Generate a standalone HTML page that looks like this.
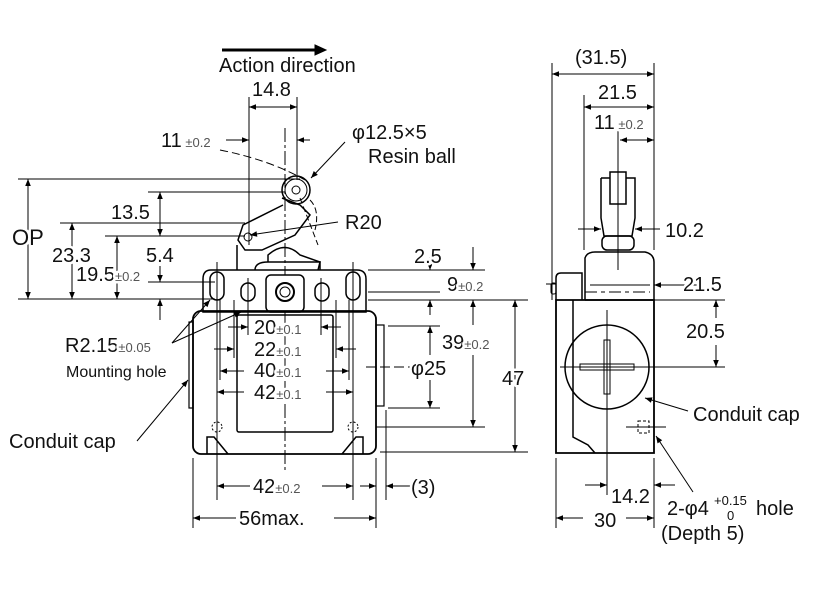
<!DOCTYPE html>
<html><head><meta charset="utf-8"><style>
html,body{margin:0;padding:0;background:#fff;width:821px;height:591px;overflow:hidden}
svg{display:block}
text{font-family:"Liberation Sans",sans-serif;fill:#111;stroke:#fff;stroke-width:5px;paint-order:stroke;stroke-linejoin:round}
</style></head><body>
<svg width="821" height="591" viewBox="0 0 821 591" xmlns="http://www.w3.org/2000/svg">
<defs>
<marker id="a" viewBox="0 0 10 10" refX="10" refY="5" markerWidth="9" markerHeight="7" orient="auto-start-reverse" markerUnits="userSpaceOnUse"><path d="M0,1 L10,5 L0,9 z" fill="#000"/></marker>
</defs>
<g stroke="#000" stroke-width="1" fill="none">
<line x1="222" y1="50" x2="318" y2="50" stroke-width="3"/>
<path d="M315,45 L326,50 L315,55 z" fill="#000"/>
<line x1="249" y1="97" x2="249" y2="245"/>
<line x1="297" y1="97" x2="297" y2="180"/>
<line x1="249" y1="107" x2="297" y2="107" marker-start="url(#a)" marker-end="url(#a)"/>
<line x1="285" y1="128" x2="285" y2="470" stroke-dasharray="14,3,3,3"/>
<line x1="226" y1="140" x2="249" y2="140" marker-end="url(#a)"/>
<line x1="310" y1="140" x2="297" y2="140" marker-end="url(#a)"/>
<line x1="18" y1="179" x2="300" y2="179"/>
<line x1="148" y1="192" x2="285" y2="192"/>
<line x1="60" y1="223" x2="245" y2="223"/>
<line x1="105" y1="236" x2="245" y2="236"/>
<line x1="148" y1="282" x2="215" y2="282"/>
<line x1="18" y1="299" x2="215" y2="299"/>
<line x1="28" y1="179" x2="28" y2="299" marker-start="url(#a)" marker-end="url(#a)"/>
<line x1="160" y1="192" x2="160" y2="236" marker-start="url(#a)" marker-end="url(#a)"/>
<line x1="72" y1="223" x2="72" y2="299" marker-start="url(#a)" marker-end="url(#a)"/>
<line x1="117" y1="236" x2="117" y2="299" marker-start="url(#a)" marker-end="url(#a)"/>
<line x1="160" y1="266" x2="160" y2="282" marker-end="url(#a)"/>
<line x1="160" y1="320" x2="160" y2="299" marker-end="url(#a)"/>
<path d="M220,150 Q270,160 305,180" stroke-dasharray="8,4"/>
<circle cx="296" cy="190" r="14" stroke-width="1.5"/>
<circle cx="296" cy="190" r="11"/>
<circle cx="296" cy="190" r="4"/>
<path d="M282,198 L300,205 L310,215 L295,235 L262,250 L245,250 L238,240 L243,225 L283,205" stroke-width="1.5"/>
<circle cx="248" cy="237" r="4"/>
<path d="M310,200 Q320,210 315,230" stroke-dasharray="6,3"/>
<line x1="300" y1="198" x2="318" y2="245" stroke-dasharray="6,3"/>
<line x1="250" y1="236" x2="338" y2="223" marker-end="url(#a)" transform="rotate(180 294 229)"/>
<line x1="345" y1="142" x2="311" y2="178" marker-end="url(#a)"/>
<path d="M237,270 L237,245 M268,262 L268,255 Q285,240 300,255 L320,262 L320,270" stroke-width="1.5"/>
<path d="M255,270 Q255,262 268,262 L320,262 Q318,270 318,270" stroke-width="1.5"/>
<path d="M211,270 L357,270 Q366,270 366,279 L366,312 L203,312 L203,279 Q203,270 211,270 z" stroke-width="1.5"/>
<rect x="266" y="275" width="38" height="37" rx="5" fill="#fff" stroke-width="1.5"/>
<circle cx="285" cy="292" r="9" stroke-width="2"/>
<circle cx="285" cy="292" r="5"/>
<rect x="210" y="272" width="14" height="28" rx="7" stroke-width="1.5"/>
<rect x="346" y="272" width="14" height="28" rx="7" stroke-width="1.5"/>
<rect x="241" y="283" width="14" height="18" rx="7" stroke-width="1.5"/>
<rect x="315" y="283" width="14" height="18" rx="7" stroke-width="1.5"/>
<rect x="193" y="311" width="183" height="143" rx="8" stroke-width="1.8"/>
<rect x="237" y="315" width="96" height="117" rx="2" stroke-width="1.5"/>
<rect x="189" y="322" width="4" height="86" stroke-width="1.2"/>
<rect x="376" y="325" width="8" height="81" stroke-width="1.2"/>
<circle cx="217" cy="427" r="5" stroke-dasharray="2,2"/>
<circle cx="353" cy="427" r="5" stroke-dasharray="2,2"/>
<path d="M207,454 L207,437 L214,437 L228,454 M363,454 L363,437 L356,437 L342,454" stroke-width="1.5"/>
<line x1="217" y1="262" x2="217" y2="500"/>
<line x1="353" y1="262" x2="353" y2="500"/>
<line x1="220" y1="300" x2="220" y2="380"/>
<line x1="349" y1="300" x2="349" y2="380"/>
<line x1="248" y1="278" x2="248" y2="335"/>
<line x1="321" y1="278" x2="321" y2="335"/>
<line x1="234" y1="300" x2="234" y2="358"/>
<line x1="336" y1="300" x2="336" y2="358"/>
<line x1="228" y1="327" x2="248" y2="327" marker-end="url(#a)"/>
<line x1="341" y1="327" x2="321" y2="327" marker-end="url(#a)"/>
<line x1="214" y1="349" x2="234" y2="349" marker-end="url(#a)"/>
<line x1="356" y1="349" x2="336" y2="349" marker-end="url(#a)"/>
<line x1="220" y1="371" x2="244" y2="371" marker-start="url(#a)"/>
<line x1="326" y1="371" x2="349" y2="371" marker-end="url(#a)"/>
<line x1="217" y1="392" x2="244" y2="392" marker-start="url(#a)"/>
<line x1="326" y1="392" x2="353" y2="392" marker-end="url(#a)"/>
<line x1="193" y1="458" x2="193" y2="528"/>
<line x1="376" y1="458" x2="376" y2="528"/>
<line x1="386" y1="410" x2="386" y2="500"/>
<line x1="217" y1="486" x2="250" y2="486" marker-start="url(#a)"/>
<line x1="322" y1="486" x2="353" y2="486" marker-end="url(#a)"/>
<line x1="193" y1="518" x2="236" y2="518" marker-start="url(#a)"/>
<line x1="334" y1="518" x2="376" y2="518" marker-end="url(#a)"/>
<line x1="360" y1="486" x2="376" y2="486" marker-end="url(#a)"/>
<line x1="410" y1="486" x2="386" y2="486" marker-end="url(#a)"/>
<line x1="172" y1="343" x2="210" y2="300" marker-end="url(#a)"/>
<line x1="172" y1="343" x2="241" y2="312" marker-end="url(#a)"/>
<line x1="137" y1="441" x2="188" y2="380" marker-end="url(#a)"/>
<line x1="368" y1="270" x2="485" y2="270"/>
<line x1="368" y1="292" x2="440" y2="292"/>
<line x1="368" y1="300" x2="528" y2="300"/>
<line x1="388" y1="326" x2="440" y2="326"/>
<line x1="388" y1="408" x2="440" y2="408"/>
<line x1="376" y1="427" x2="485" y2="427"/>
<line x1="380" y1="452" x2="528" y2="452"/>
<line x1="430" y1="255" x2="430" y2="270" marker-end="url(#a)"/>
<line x1="430" y1="315" x2="430" y2="300" marker-end="url(#a)"/>
<line x1="473" y1="247" x2="473" y2="270" marker-end="url(#a)"/>
<line x1="473" y1="300" x2="473" y2="325" marker-start="url(#a)"/>
<line x1="473" y1="355" x2="473" y2="427" marker-end="url(#a)"/>
<line x1="430" y1="326" x2="430" y2="355" marker-start="url(#a)"/>
<line x1="430" y1="380" x2="430" y2="408" marker-end="url(#a)"/>
<line x1="515" y1="300" x2="515" y2="452" marker-start="url(#a)" marker-end="url(#a)"/>
<line x1="366" y1="367" x2="410" y2="367" stroke-dasharray="10,4"/>

<line x1="552" y1="63" x2="552" y2="300"/>
<line x1="654" y1="63" x2="654" y2="250"/>
<line x1="584" y1="95" x2="584" y2="250"/>
<line x1="552" y1="74" x2="654" y2="74" marker-start="url(#a)" marker-end="url(#a)"/>
<line x1="584" y1="107" x2="654" y2="107" marker-start="url(#a)" marker-end="url(#a)"/>
<line x1="620" y1="140" x2="654" y2="140" marker-start="url(#a)" marker-end="url(#a)"/>
<line x1="618" y1="130" x2="618" y2="270"/>
<rect x="610" y="172" width="16" height="32" stroke-width="1.5"/>
<path d="M601,178 L601,218 L604,236 L632,236 L635,218 L635,178 L626,178 M610,178 L601,178" stroke-width="1.5"/>
<rect x="602" y="236" width="32" height="14" rx="5" stroke-width="1.5"/>
<line x1="578" y1="229" x2="601" y2="229" marker-end="url(#a)"/>
<line x1="660" y1="229" x2="635" y2="229" marker-end="url(#a)"/>
<path d="M585,300 L585,258 Q587,252 595,252 L645,252 Q654,254 654,262 L654,300" stroke-width="1.5"/>
<path d="M556,300 L556,278 Q556,273 561,273 L582,273 L582,300" stroke-width="1.5"/>
<rect x="551" y="283" width="5" height="11" rx="2"/>
<line x1="590" y1="285" x2="650" y2="285"/>
<line x1="585" y1="292" x2="650" y2="292" stroke-dasharray="12,4,4,4"/>
<line x1="546" y1="284" x2="556" y2="284"/>
<path d="M556,300 L556,453 L654,453 L654,300 z" stroke-width="1.8"/>
<line x1="585" y1="300" x2="654" y2="300" stroke-width="1.5"/>
<path d="M573,300 L573,437 L588,445 L595,453" stroke-width="1.5"/>
<circle cx="607" cy="367" r="42" stroke-width="1.5"/>
<rect x="604" y="340" width="6" height="54"/>
<rect x="580" y="364" width="54" height="6"/>
<line x1="560" y1="367" x2="700" y2="367"/>
<line x1="607" y1="310" x2="607" y2="495"/>
<rect x="638" y="421" width="11" height="12" stroke-dasharray="3,2"/>
<line x1="626" y1="427" x2="666" y2="427"/>
<line x1="697" y1="285" x2="654" y2="285" marker-end="url(#a)"/>
<line x1="654" y1="300" x2="725" y2="300"/>
<line x1="654" y1="367" x2="725" y2="367"/>
<line x1="716" y1="300" x2="716" y2="318" marker-start="url(#a)"/>
<line x1="716" y1="345" x2="716" y2="367" marker-end="url(#a)"/>
<line x1="688" y1="411" x2="645" y2="398" marker-end="url(#a)"/>
<line x1="693" y1="492" x2="656" y2="436" marker-end="url(#a)"/>
<line x1="556" y1="458" x2="556" y2="528"/>
<line x1="654" y1="458" x2="654" y2="528"/>
<line x1="585" y1="485" x2="607" y2="485" marker-end="url(#a)"/>
<line x1="675" y1="485" x2="654" y2="485" marker-end="url(#a)"/>
<line x1="556" y1="518" x2="583" y2="518" marker-start="url(#a)"/>
<line x1="626" y1="518" x2="654" y2="518" marker-end="url(#a)"/>
</g>
<g font-size="20">
<text x="219" y="72">Action direction</text>
<text x="252" y="96">14.8</text>
<text x="161" y="147">11<tspan font-size="13" fill="#555"> ±0.2</tspan></text>
<text x="352" y="139">φ12.5×5</text>
<text x="368" y="163">Resin ball</text>
<text x="345" y="229">R20</text>
<text x="111" y="219">13.5</text>
<text x="12" y="245" font-size="22">OP</text>
<text x="52" y="262">23.3</text>
<text x="146" y="262">5.4</text>
<text x="76" y="281">19.5<tspan font-size="13" fill="#555">±0.2</tspan></text>
<text x="65" y="352">R2.15<tspan font-size="13" fill="#555">±0.05</tspan></text>
<text x="66" y="377" font-size="16">Mounting hole</text>
<text x="9" y="448">Conduit cap</text>
<text x="254" y="334">20<tspan font-size="13" fill="#555">±0.1</tspan></text>
<text x="254" y="356">22<tspan font-size="13" fill="#555">±0.1</tspan></text>
<text x="254" y="377">40<tspan font-size="13" fill="#555">±0.1</tspan></text>
<text x="254" y="399">42<tspan font-size="13" fill="#555">±0.1</tspan></text>
<text x="253" y="493">42<tspan font-size="13" fill="#555">±0.2</tspan></text>
<text x="239" y="525">56max.</text>
<text x="411" y="494">(3)</text>
<text x="414" y="263">2.5</text>
<text x="447" y="291">9<tspan font-size="13" fill="#555">±0.2</tspan></text>
<text x="442" y="349">39<tspan font-size="13" fill="#555">±0.2</tspan></text>
<text x="411" y="375">φ25</text>
<text x="502" y="385">47</text>
<text x="575" y="64">(31.5)</text>
<text x="598" y="99">21.5</text>
<text x="594" y="129">11<tspan font-size="13" fill="#555"> ±0.2</tspan></text>
<text x="665" y="237">10.2</text>
<text x="683" y="291">21.5</text>
<text x="686" y="338">20.5</text>
<text x="693" y="421">Conduit cap</text>
<text x="611" y="503">14.2</text>
<text x="594" y="527">30</text>
<text x="667" y="515">2-φ4</text>
<text x="714" y="505" font-size="13">+0.15</text>
<text x="727" y="520" font-size="13">0</text>
<text x="756" y="515">hole</text>
<text x="661" y="540">(Depth 5)</text>
</g>
</svg>
</body></html>
